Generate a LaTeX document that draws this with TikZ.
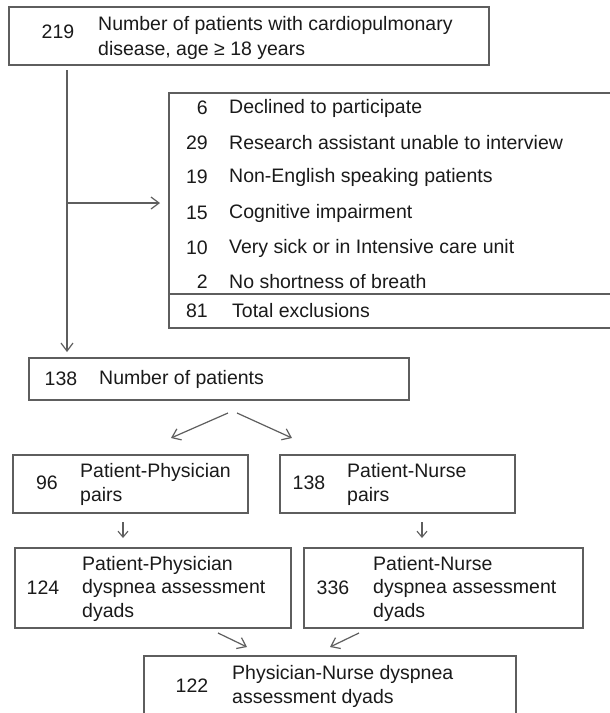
\documentclass[tikz,border=0pt]{standalone}
\usepackage{fontspec}
\setmainfont{Liberation Sans}
\usetikzlibrary{arrows.meta}
\definecolor{linegray}{HTML}{5E5E5E}
\definecolor{textc}{HTML}{1A1A1A}
\begin{document}
\begin{tikzpicture}[x=1pt,y=-1pt,
  box/.style={draw=linegray, line width=1.6pt, anchor=north west, inner sep=0pt},
  num/.style={anchor=center, font=\fontsize{19.5}{23.5}\selectfont, text=textc, inner sep=0pt},
  numr/.style={anchor=east, font=\fontsize{19.5}{23.5}\selectfont, text=textc, inner sep=0pt},
  txt/.style={anchor=west, align=left, font=\fontsize{19.5}{23.5}\selectfont, text=textc, inner sep=0pt},
  arr/.style={draw=linegray, line width=1.2pt, -{Straight Barb[length=8pt,width=12pt,line width=1.2pt]}},
  sarr/.style={draw=linegray, line width=1.1pt, -{Straight Barb[length=6pt,width=10pt,line width=1.1pt]}}]
\useasboundingbox (0,0) rectangle (610,713);
\clip (0,0) rectangle (610,713);
\fill[white] (0,0) rectangle (610,713);

% boxes
\path (8,6) node[box, minimum width=480pt, minimum height=58pt] (b1) {};
\path (168,92) node[box, minimum width=452pt, minimum height=235pt] (bx) {};
\coordinate (dl) at (168,294);
\coordinate (dr) at (620,294);
\draw[draw=linegray, line width=1.6pt] (dl) -- (dr);
\path (28,357) node[box, minimum width=380pt, minimum height=42pt] (b2) {};
\path (12,454) node[box, minimum width=235pt, minimum height=58pt] (b3) {};
\path (279,454) node[box, minimum width=235pt, minimum height=58pt] (b4) {};
\path (14,547) node[box, minimum width=276pt, minimum height=80pt] (b5) {};
\path (303,547) node[box, minimum width=279pt, minimum height=80pt] (b6) {};
\path (143,655) node[box, minimum width=372pt, minimum height=80pt] (b7) {};

% texts
\node[num] (n1) at (58,32) {219};
\node[txt, font=\fontsize{19.5}{25}\selectfont] (t1) at (98,37.5) {Number of patients with cardiopulmonary\\disease, age ≥ 18 years};

\node[numr] (e1n) at (208,108) {6};
\node[txt] (e1t) at (229,108) {Declined to participate};
\node[numr] (e2n) at (208,143) {29};
\node[txt] (e2t) at (229,143) {Research assistant unable to interview};
\node[numr] (e3n) at (208,177) {19};
\node[txt] (e3t) at (229,177) {Non-English speaking patients};
\node[numr] (e4n) at (208,213) {15};
\node[txt] (e4t) at (229,213) {Cognitive impairment};
\node[numr] (e5n) at (208,248) {10};
\node[txt] (e5t) at (229,248) {Very sick or in Intensive care unit};
\node[numr] (e6n) at (208,282) {2};
\node[txt] (e6t) at (229,282) {No shortness of breath};
\node[numr] (e7n) at (208,311) {81};
\node[txt] (e7t) at (232,311) {Total exclusions};

\node[num] (n2) at (61,379) {138};
\node[txt] (t2) at (99,379) {Number of patients};

\node[num] (n3) at (47,483) {96};
\node[txt, font=\fontsize{19.5}{24}\selectfont] (t3) at (80,484) {Patient-Physician\\pairs};
\node[num] (n4) at (309,483) {138};
\node[txt, font=\fontsize{19.5}{24}\selectfont] (t4) at (347,484) {Patient-Nurse\\pairs};

\node[num] (n5) at (43,588) {124};
\node[txt] (t5) at (82,588.5) {Patient-Physician\\dyspnea assessment\\dyads};
\node[num] (n6) at (333,588) {336};
\node[txt] (t6) at (373,588.5) {Patient-Nurse\\dyspnea assessment\\dyads};

\node[num] (n7) at (192,686) {122};
\node[txt] (t7) at (232,686.5) {Physician-Nurse dyspnea\\assessment dyads};

% connectors
\coordinate (v0) at (67,70);
\coordinate (v1) at (67,352);
\coordinate (vh) at (67,203);
\coordinate (h1) at (160,203);
\draw[arr] (v0) -- (v1);
\draw[arr] (vh) -- (h1);

\coordinate (s1) at (228,413);
\coordinate (e1) at (171,438);
\coordinate (s2) at (237,413);
\coordinate (e2) at (292,438);
\draw[arr] (s1) -- (e1);
\draw[arr] (s2) -- (e2);

\coordinate (s3) at (123,522);
\coordinate (e3) at (123,538);
\coordinate (s4) at (422,522);
\coordinate (e4) at (422,538);
\draw[sarr] (s3) -- (e3);
\draw[sarr] (s4) -- (e4);

\coordinate (s5) at (218,633);
\coordinate (e5) at (247,647);
\coordinate (s6) at (359,633);
\coordinate (e6) at (330,647);
\draw[arr] (s5) -- (e5);
\draw[arr] (s6) -- (e6);
\end{tikzpicture}
\end{document}
